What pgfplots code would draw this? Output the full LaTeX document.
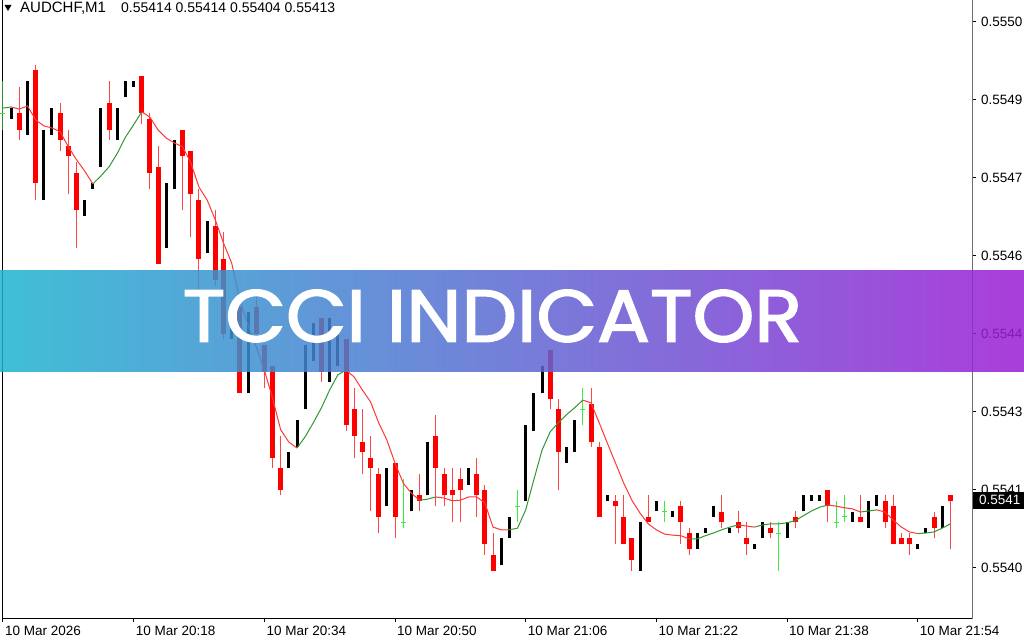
\documentclass[border=0pt]{standalone}
\usepackage{pgfplots}
\pgfplotsset{compat=1.18}
\usepackage{pgfplotstable}
\usepackage{fontspec}
\setmainfont{Liberation Sans}
\newfontfamily\popfont{Poppins}[FakeBold=2]
\usepackage{graphicx}

\definecolor{candred}{RGB}{255,0,0}
\definecolor{wickred}{RGB}{255,70,70}
\definecolor{dojigreen}{RGB}{60,235,60}
\definecolor{maup}{RGB}{50,150,50}
\definecolor{madown}{RGB}{255,55,55}
\definecolor{banL}{RGB}{30,180,207}
\definecolor{banR}{RGB}{155,28,212}

% bearish candles: open high low close
\pgfplotstableread{
x o h l c
2 0.55485 0.55490 0.55480 0.55482
4 0.55493 0.55494 0.55469 0.55472
7 0.55485 0.55487 0.55478 0.55480
8 0.55479 0.55482 0.55470 0.55477
9 0.55474 0.55476 0.55460 0.55467
13 0.55487 0.55491 0.55480 0.55482
17 0.55492 0.55492 0.55483 0.55485
18 0.55484 0.55485 0.55471 0.55474
19 0.55475 0.55479 0.55457 0.55457
22 0.55482 0.55482 0.55467 0.55477
23 0.55478 0.55478 0.55462 0.55470
24 0.55469 0.55471 0.55452 0.55458
26 0.55464 0.55467 0.55453 0.55454
27 0.55458 0.55463 0.55443 0.55444
29 0.55449 0.55450 0.55433 0.55433
31 0.55449 0.55451 0.55443 0.55444
32 0.55442 0.55442 0.55434 0.55437
33 0.55438 0.55438 0.55419 0.55421
34 0.55419 0.55425 0.55414 0.55415
39 0.55447 0.55447 0.55435 0.55437
42 0.55443 0.55443 0.55426 0.55427
43 0.55430 0.55434 0.55421 0.55425
44 0.55424 0.55430 0.55418 0.55422
45 0.55421 0.55425 0.55411 0.55419
46 0.55418 0.55419 0.55407 0.55410
48 0.55420 0.55420 0.55406 0.55410
51 0.55414 0.55418 0.55411 0.55413
53 0.55425 0.55429 0.55412 0.55419
54 0.55418 0.55419 0.55412 0.55414
55 0.55415 0.55419 0.55409 0.55414
56 0.55417 0.55419 0.55409 0.55415
58 0.55418 0.55421 0.55410 0.55414
59 0.55415 0.55416 0.55403 0.55405
60 0.55403 0.55407 0.55400 0.55400
67 0.55441 0.55441 0.55430 0.55432
68 0.55430 0.55432 0.55415 0.55422
72 0.55431 0.55434 0.55423 0.55424
73 0.55423 0.55424 0.55410 0.55410
75 0.55413 0.55414 0.55405 0.55412
76 0.55410 0.55414 0.55405 0.55405
77 0.55406 0.55406 0.55400 0.55402
79 0.55410 0.55414 0.55409 0.55409
83 0.55412 0.55413 0.55405 0.55409
84 0.55407 0.55408 0.55403 0.55404
88 0.55411 0.55414 0.55408 0.55409
90 0.55409 0.55411 0.55407 0.55408
91 0.55406 0.55409 0.55403 0.55405
94 0.55408 0.55409 0.55406 0.55407
97 0.55410 0.55411 0.55408 0.55409
101 0.55415 0.55415 0.55409 0.55412
105 0.55410 0.55414 0.55409 0.55409
108 0.55413 0.55414 0.55408 0.55409
109 0.55412 0.55414 0.55405 0.55405
110 0.55406 0.55407 0.55405 0.55405
111 0.55406 0.55407 0.55403 0.55405
114 0.55410 0.55411 0.55406 0.55408
116 0.55414 0.55414 0.55404 0.55413
}\redtab

% bullish candles: low high
\pgfplotstableread{
x lo hi
1 0.55484 0.55486
3 0.55481 0.55491
5 0.55469 0.55482
6 0.55481 0.55486
10 0.55466 0.55469
11 0.55471 0.55472
12 0.55475 0.55486
14 0.55480 0.55486
15 0.55488 0.55491
16 0.55490 0.55491
20 0.55460 0.55472
21 0.55471 0.55480
25 0.55459 0.55465
28 0.55443 0.55449
30 0.55433 0.55448
35 0.55419 0.55422
36 0.55423 0.55428
37 0.55430 0.55442
38 0.55439 0.55446
40 0.55435 0.55447
41 0.55438 0.55444
47 0.55412 0.55419
50 0.55411 0.55415
52 0.55414 0.55424
57 0.55416 0.55419
61 0.55401 0.55406
62 0.55406 0.55410
64 0.55413 0.55427
65 0.55426 0.55433
66 0.55433 0.55438
69 0.55420 0.55423
70 0.55422 0.55428
74 0.55413 0.55414
78 0.55400 0.55409
80 0.55411 0.55413
82 0.55410 0.55411
85 0.55404 0.55407
86 0.55407 0.55408
87 0.55410 0.55412
89 0.55407 0.55408
92 0.55404 0.55405
93 0.55406 0.55409
96 0.55406 0.55409
98 0.55411 0.55414
99 0.55413 0.55414
100 0.55413 0.55414
104 0.55409 0.55411
106 0.55408 0.55413
107 0.55412 0.55414
112 0.55404 0.55405
113 0.55407 0.55408
115 0.55408 0.55412
}\blacktab

% doji candles: open=close, high, low
\pgfplotstableread{
x v h l
0 0.55485 0.55491 0.55482
49 0.55409 0.55417 0.55408
63 0.55412 0.55415 0.55409
71 0.55430 0.55434 0.55427
81 0.55411 0.55413 0.55409
95 0.55407 0.55409 0.55400
102 0.55409 0.55413 0.55408
103 0.55410 0.55414 0.55409
}\dojitab

% indicator line, rising parts
\pgfplotstableread{
x y
0 0.554860
1 0.554862
nan nan
11 0.554719
12 0.554734
13 0.554751
14 0.554776
15 0.554806
16 0.554829
17 0.554853
nan nan
36 0.554228
37 0.554249
38 0.554275
39 0.554303
40 0.554336
41 0.554364
42 0.554373
nan nan
51 0.554131
52 0.554133
53 0.554137
nan nan
62 0.554076
63 0.554079
64 0.554113
65 0.554169
66 0.554224
67 0.554258
68 0.554275
69 0.554290
70 0.554303
71 0.554317
nan nan
84 0.554059
85 0.554059
86 0.554065
87 0.554070
88 0.554076
89 0.554081
90 0.554085
nan nan
92 0.554081
93 0.554085
94 0.554087
95 0.554087
96 0.554089
97 0.554093
98 0.554102
99 0.554111
100 0.554118
101 0.554122
nan nan
105 0.554109
106 0.554111
107 0.554113
nan nan
112 0.554069
113 0.554070
114 0.554072
115 0.554079
116 0.554087
}\maup

% indicator line, falling parts
\pgfplotstableread{
x y
1 0.554862
2 0.554858
3 0.554864
4 0.554838
5 0.554827
6 0.554823
7 0.554816
8 0.554788
9 0.554764
10 0.554743
11 0.554719
nan nan
17 0.554853
18 0.554843
19 0.554819
20 0.554804
21 0.554795
22 0.554788
23 0.554758
24 0.554713
25 0.554689
26 0.554652
27 0.554609
28 0.554572
29 0.554503
30 0.554457
31 0.554416
32 0.554373
33 0.554321
34 0.554262
35 0.554239
36 0.554228
nan nan
42 0.554373
43 0.554360
44 0.554336
45 0.554314
46 0.554275
47 0.554243
48 0.554200
49 0.554163
50 0.554144
51 0.554131
nan nan
53 0.554137
54 0.554135
55 0.554130
56 0.554131
57 0.554137
58 0.554137
59 0.554126
60 0.554081
61 0.554076
62 0.554076
nan nan
71 0.554317
72 0.554312
73 0.554275
74 0.554237
75 0.554200
76 0.554163
77 0.554131
78 0.554107
79 0.554087
80 0.554076
81 0.554068
82 0.554066
83 0.554065
84 0.554059
nan nan
90 0.554085
91 0.554083
92 0.554081
nan nan
101 0.554122
102 0.554120
103 0.554117
104 0.554115
105 0.554109
nan nan
107 0.554113
108 0.554109
109 0.554094
110 0.554081
111 0.554072
112 0.554069
}\madown

\begin{document}
\begin{tikzpicture}
\begin{axis}[
  at={(0pt,0pt)}, anchor=south west,
  scale only axis, width=969.5pt, height=630pt,
  xmin=-0.06, xmax=118.65,
  ymin=0.553912, ymax=0.5550832,
  axis line style={black, line width=1pt},
  xtick={0,16,32,48,64,80,96,112},
  xticklabels={10 Mar 2026,10 Mar 20:18,10 Mar 20:34,10 Mar 20:50,10 Mar 21:06,10 Mar 21:22,10 Mar 21:38,10 Mar 21:54},
  ytick={0.554005,0.55415,0.554295,0.55444,0.554585,0.55473,0.554875,0.55502},
  yticklabels={0.5540,0.5541,0.5543,0.5544,0.5546,0.5547,0.5549,0.5550},
  xtick pos=left, ytick pos=right, yticklabel pos=right,
  tick align=outside, major tick length=4pt,
  tick style={black, line width=1pt},
  xticklabel style={font=\fontsize{13.5}{13.5}\selectfont, anchor=north west, inner sep=0pt, xshift=2pt, yshift=-4pt},
  yticklabel style={font=\fontsize{13.5}{13.5}\selectfont, anchor=west, inner sep=0pt, xshift=5pt},
  unbounded coords=jump,
]
% red wicks
\addplot[draw=none, mark=none, forget plot,
  error bars/.cd, y dir=plus, y explicit, error mark=none,
  error bar style={draw=wickred, line width=1pt}]
  table[x=x, y=l, y error expr=\thisrow{h}-\thisrow{l}] {\redtab};
% red bodies
\addplot[draw=none, mark=none, forget plot,
  error bars/.cd, y dir=plus, y explicit, error mark=none,
  error bar style={draw=candred, line width=5pt}]
  table[x=x, y=c, y error expr=\thisrow{o}-\thisrow{c}] {\redtab};
% black candles
\addplot[draw=none, mark=none, forget plot,
  error bars/.cd, y dir=plus, y explicit, error mark=none,
  error bar style={draw=black, line width=3pt}]
  table[x=x, y=lo, y error expr=\thisrow{hi}-\thisrow{lo}] {\blacktab};
% doji
\addplot[draw=none, mark=none, forget plot,
  error bars/.cd, y dir=plus, y explicit, error mark=none,
  error bar style={draw=dojigreen, line width=1pt}]
  table[x=x, y=l, y error expr=\thisrow{h}-\thisrow{l}] {\dojitab};
\addplot[only marks, mark=-, mark size=2.5pt, mark options={draw=dojigreen, line width=1pt}, forget plot]
  table[x=x, y=v] {\dojitab};
% indicator
\addplot[maup, line width=1pt, mark=none, forget plot] table[x=x, y=y] {\maup};
\addplot[madown, line width=1pt, mark=none, forget plot] table[x=x, y=y] {\madown};
\end{axis}

% right scale line
\draw[color={rgb,255:red,110;green,110;blue,110}, line width=1pt] (969.5pt,-1pt) -- (969.5pt,640pt);
% current price box
\fill[black] (970.5pt,109.5pt) rectangle (1021.5pt,126pt);
\node[text=white, anchor=west, inner sep=0pt, font=\fontsize{13.5}{13.5}\selectfont] at (976.5pt,117.75pt) {0.5541};

% header
\fill[black] (2pt,613pt) -- (9pt,613pt) -- (5.5pt,607pt) -- cycle;
\node[anchor=base west, inner sep=0pt, font=\fontsize{15}{15}\selectfont] at (17.5pt,605pt) {AUDCHF,M1};
\node[anchor=base west, inner sep=0pt, font=\fontsize{14}{14}\selectfont] at (118.5pt,605pt) {0.55414 0.55414 0.55404 0.55413};

% banner
\shade[left color=banL, right color=banR, fill opacity=0.85] (-2.5pt,246pt) rectangle (1021.5pt,347pt);
\node[text=white, inner sep=0pt] at (490pt,302pt) {\resizebox{619pt}{52pt}{\popfont TCCI INDICATOR}};

\pgfresetboundingbox
\path[use as bounding box] (-2.5pt,-22pt) rectangle (1021.5pt,618pt);
\end{tikzpicture}
\end{document}
